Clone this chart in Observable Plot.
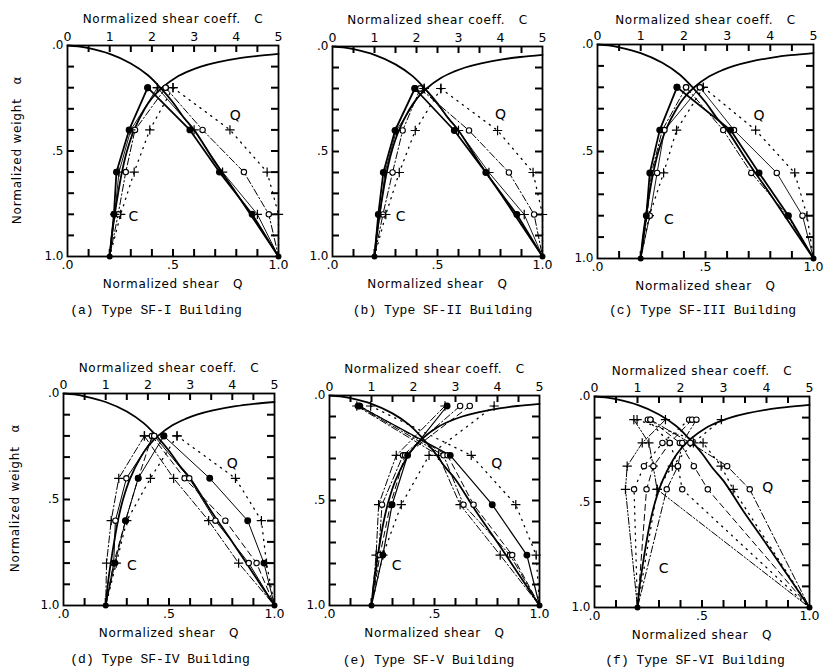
<!DOCTYPE html>
<html><head><meta charset="utf-8">
<script src="https://cdn.jsdelivr.net/npm/d3@7"></script>
<script src="https://cdn.jsdelivr.net/npm/@observablehq/plot@0.6"></script>
<style>
body{margin:0;background:#fff;width:823px;height:672px;overflow:hidden;position:relative;}
.panel{position:absolute;}
.ytitle{position:absolute;font-family:"DejaVu Sans",sans-serif;font-size:12px;letter-spacing:0.8px;white-space:pre;transform:translate(-50%,-50%) rotate(-90deg);}
</style></head><body>
<script>
// ---- tick labels ----
const qTicks = [0, 0.5, 1.0];
const qTickLabels = [".0", ".5", "1.0"];
const cTicks = [0, 1, 2, 3, 4, 5];
const cTickLabels = ["0", "1", "2", "3", "4", "5"];
const yTicks = [0, 0.5, 1.0];
const yTickLabels = [".0", ".5", "1.0"];
const minorTicks = [0.1, 0.2, 0.3, 0.4, 0.5, 0.6, 0.7, 0.8, 0.9];

// ---- theoretical curves ----
const qCurveQ = [0, 0.05, 0.10, 0.20, 0.30, 0.38, 0.44, 0.50, 0.55, 0.60, 0.70, 0.80, 0.90, 1.00];
const qCurveA = [0, 0.004, 0.013, 0.04, 0.085, 0.14, 0.20, 0.27, 0.34, 0.40, 0.555, 0.70, 0.85, 1.00];
const cCurveC = [1.00, 1.05, 1.12, 1.20, 1.29, 1.41, 1.58, 1.83, 2.00, 2.24, 2.58, 2.89, 3.16, 3.54, 4.08, 4.47, 5.00];
const cCurveA = [1.00, 0.90, 0.80, 0.70, 0.60, 0.50, 0.40, 0.30, 0.25, 0.20, 0.15, 0.12, 0.10, 0.08, 0.06, 0.05, 0.04];

// ---- floor levels (normalized weight) ----
const levelsAD = [0.2, 0.4, 0.6, 0.8, 1.0];
const levelsE = [0.05, 0.285, 0.52, 0.76, 1.0];
const levelsF = [0.11, 0.22, 0.33, 0.44, 1.0];

// ---- (a) SF-I ----
const aC1 = [1.90, 1.46, 1.16, 1.10, 1.00], aQ1 = [0.38, 0.58, 0.72, 0.875, 1.00];
const aC2 = [2.13, 1.50, 1.22, 1.12, 1.00], aQ2 = [0.426, 0.60, 0.735, 0.90, 1.00];
const aC3 = [2.33, 1.60, 1.38, 1.20, 1.00], aQ3 = [0.465, 0.64, 0.836, 0.954, 1.00];
const aC4 = [2.50, 1.95, 1.58, 1.26, 1.00], aQ4 = [0.50, 0.77, 0.946, 1.00, 1.00];
// ---- (b) SF-II ----
const bC1 = [1.96, 1.49, 1.21, 1.09, 1.00], bQ1 = [0.392, 0.58, 0.73, 0.878, 1.00];
const bC2 = [2.18, 1.52, 1.25, 1.13, 1.00], bQ2 = [0.437, 0.60, 0.745, 0.913, 1.00];
const bC3 = [2.09, 1.67, 1.43, 1.20, 1.00], bQ3 = [0.417, 0.65, 0.84, 0.96, 1.00];
const bC4 = [2.58, 1.97, 1.59, 1.27, 1.00], bQ4 = [0.516, 0.786, 0.955, 1.00, 1.00];
// ---- (c) SF-III ----
const cC1 = [1.84, 1.44, 1.21, 1.13, 1.00], cQ1 = [0.368, 0.616, 0.748, 0.884, 1.00];
const cC2 = [2.37, 1.55, 1.38, 1.21, 1.00], cQ2 = [0.474, 0.632, 0.83, 0.949, 1.00];
const cC3 = [2.05, 1.50, 1.25, 1.15, 1.00], cQ3 = [0.41, 0.582, 0.712, 0.88, 1.00];
const cC4 = [2.45, 1.83, 1.53, 1.20, 1.00], cQ4 = [0.49, 0.732, 0.913, 0.97, 1.00];
// ---- (d) SF-IV ----
const dC1 = [1.92, 1.31, 1.13, 1.02, 1.00], dQ1 = [0.383, 0.522, 0.688, 0.83, 1.00];
const dC2 = [2.15, 1.49, 1.23, 1.19, 1.00], dQ2 = [0.43, 0.596, 0.72, 0.878, 1.00];
const dC3 = [2.10, 1.77, 1.47, 1.19, 1.00], dQ3 = [0.419, 0.574, 0.767, 0.915, 1.00];
const dC4 = [2.38, 1.77, 1.47, 1.22, 1.00], dQ4 = [0.475, 0.693, 0.873, 0.95, 1.00];
const dC5 = [2.69, 2.06, 1.50, 1.25, 1.00], dQ5 = [0.538, 0.815, 0.938, 0.962, 1.00];
// ---- (e) SF-V ----
const eC1 = [2.80, 1.86, 1.49, 1.27, 1.00], eQ1 = [0.14, 0.575, 0.775, 0.94, 1.00];
const eC2 = [3.11, 1.75, 1.25, 1.17, 1.00], eQ2 = [0.135, 0.543, 0.638, 0.86, 1.00];
const eC3 = [3.34, 1.80, 1.45, 1.20, 1.00], eQ3 = [0.145, 0.562, 0.686, 0.87, 1.00];
const eC4 = [3.92, 2.37, 1.71, 1.27, 1.00], eQ4 = [0.196, 0.675, 0.887, 0.984, 1.00];
const eC5 = [2.75, 1.59, 1.17, 1.11, 1.00], eQ5 = [0.13, 0.519, 0.622, 0.813, 1.00];
// ---- (f) SF-VI ----
const fC1 = [1.65, 1.11, 0.76, 0.72, 1.00], fQ1 = [0.183, 0.253, 0.273, 0.291, 1.00];
const fC2 = [2.20, 1.58, 1.15, 0.92, 1.00], fQ2 = [0.248, 0.35, 0.388, 0.408, 1.00];
const fC3 = [2.27, 1.75, 1.37, 1.21, 1.00], fQ3 = [0.26, 0.397, 0.462, 0.527, 1.00];
const fC4 = [2.95, 2.30, 1.81, 1.46, 1.00], fQ4 = [0.198, 0.505, 0.589, 0.645, 1.00];
const fC5 = [2.37, 2.04, 1.94, 1.68, 1.00], fQ5 = [0.26, 0.446, 0.617, 0.722, 1.00];

// ---- in-plot letters ----
const letterQx = [0.795, 0.80, 0.748, 0.80, 0.797, 0.806], letterQy = [0.33, 0.326, 0.334, 0.33, 0.325, 0.43];
const letterCx = [0.312, 0.325, 0.33, 0.324, 0.32, 0.322], letterCy = [0.81, 0.81, 0.816, 0.81, 0.81, 0.816];

const captions = ["(a) Type SF-I Building", "(b) Type SF-II Building", "(c) Type SF-III Building",
                  "(d) Type SF-IV Building", "(e) Type SF-V Building", "(f) Type SF-VI Building"];

// ---- styles ----
const DASH = {solid: null, dashdot: "7,2.5,1.5,2.5", dashdot2: "7,2,1.5,2,1.5,2", dotted: "1.2,5.5", dashed: "6,4"};
const S = (C, Q, marker, dash, w) => ({C, Q, marker, dash, w});

const panels = [
  {L: 67, T: 45, W: 211, H: 211, levels: levelsAD, ytitle: [17, 150], capDx: -17, capDy: 57, titleDy: -31,
   series: [S(aC4, aQ4, "plus", "dotted", 1.3), S(aC3, aQ3, "open", "dashdot", 1), S(aC2, aQ2, "plus", "solid", 0.9), S(aC1, aQ1, "fill", "solid", 1.8)]},
  {L: 332, T: 46, W: 210, H: 210, levels: levelsAD, ytitle: null, capDx: 5, capDy: 57, titleDy: -31,
   series: [S(bC4, bQ4, "plus", "dotted", 1.3), S(bC3, bQ3, "open", "dashdot", 1), S(bC2, bQ2, "plus", "solid", 0.9), S(bC1, bQ1, "fill", "solid", 1.8)]},
  {L: 597, T: 44, W: 216, H: 214, levels: levelsAD, ytitle: null, capDx: -3, capDy: 55, titleDy: -29,
   series: [S(cC4, cQ4, "plus", "dotted", 1.3), S(cC3, cQ3, "open", "dashdot", 1), S(cC2, cQ2, "open", "solid", 0.9), S(cC1, cQ1, "fill", "solid", 1.8)]},
  {L: 63, T: 393, W: 211, H: 212, levels: levelsAD, ytitle: [15, 498], capDx: -9, capDy: 57, titleDy: -30,
   series: [S(dC5, dQ5, "plus", "dotted", 1.3), S(dC1, dQ1, "plus", "dashdot", 1), S(dC3, dQ3, "open", "dashed", 1), S(dC2, dQ2, "open", "solid", 1), S(dC4, dQ4, "fill", "solid", 1)]},
  {L: 329, T: 395, W: 210, H: 210, levels: levelsE, ytitle: null, capDx: -6, capDy: 58, titleDy: -31,
   series: [S(eC4, eQ4, "plus", "dotted", 1.3), S(eC5, eQ5, "plus", "dashdot", 1), S(eC2, eQ2, "open", "dashdot", 1), S(eC3, eQ3, "open", "dashed", 1), S(eC1, eQ1, "fill", "solid", 1.2)]},
  {L: 594, T: 396, W: 215, H: 211, levels: levelsF, ytitle: null, capDx: -7, capDy: 56, titleDy: -30,
   series: [S(fC1, fQ1, "plus", "dashdot2", 1), S(fC2, fQ2, "open", "dotted", 1.3), S(fC3, fQ3, "open", "dashed", 1), S(fC4, fQ4, "plus", "dotted", 1.3), S(fC5, fQ5, "open", "dashdot", 1)]}
];

const ml = 58, mr = 8, mt = 40, mb = 66;
const SANS = "DejaVu Sans";
const TICK = 7;

panels.forEach((p, pi) => {
  const marks = [];
  // frame
  marks.push(Plot.frame({stroke: "black", strokeWidth: 1.8}));
  // inward minor ticks on all four sides
  const tk = {stroke: "#000", strokeWidth: 2};
  marks.push(Plot.tickX(minorTicks, {x: d => d, insetTop: p.H - TICK, ...tk}));
  marks.push(Plot.tickX(minorTicks, {x: d => d, insetBottom: p.H - TICK, ...tk}));
  marks.push(Plot.tickY(minorTicks, {y: d => d, insetRight: p.W - TICK, ...tk}));
  marks.push(Plot.tickY(minorTicks, {y: d => d, insetLeft: p.W - TICK, ...tk}));
  // theoretical curves
  marks.push(Plot.line(qCurveQ.map((q, i) => ({x: q, y: qCurveA[i]})), {x: "x", y: "y", stroke: "black", strokeWidth: 1.8, curve: "catmull-rom"}));
  marks.push(Plot.line(cCurveC.map((c, i) => ({x: c / 5, y: cCurveA[i]})), {x: "x", y: "y", stroke: "black", strokeWidth: 1.8, curve: "catmull-rom"}));
  // series
  p.series.forEach(s => {
    const cRows = s.C.map((c, j) => ({x: c / 5, y: p.levels[j]}));
    const qRows = s.Q.map((q, j) => ({x: q, y: p.levels[j]}));
    const lineOpt = {x: "x", y: "y", stroke: "black", strokeWidth: s.w, strokeDasharray: DASH[s.dash], strokeLinecap: "round"};
    marks.push(Plot.line(cRows, lineOpt), Plot.line(qRows, lineOpt));
  });
  p.series.forEach(s => {
    const pts = s.C.map((c, j) => ({x: c / 5, y: p.levels[j]})).concat(s.Q.map((q, j) => ({x: q, y: p.levels[j]}))).filter(d => d.y < 1);
    if (s.marker === "plus") marks.push(Plot.dot(pts, {x: "x", y: "y", symbol: "plus", r: 3.1, stroke: "black", strokeWidth: 1.2}));
    else if (s.marker === "open") marks.push(Plot.dot(pts, {x: "x", y: "y", symbol: "circle", r: 2.7, fill: "white", stroke: "black", strokeWidth: 1.1}));
    else marks.push(Plot.dot(pts, {x: "x", y: "y", symbol: "circle", r: 2.7, fill: "black", stroke: "black"}));
  });
  // end points at alpha = 1
  const ends = [{x: p.series[0].C[4] / 5, y: p.levels[4]}, {x: p.series[0].Q[4], y: p.levels[4]}];
  marks.push(Plot.dot(ends, {x: "x", y: "y", r: 3, fill: "black"}));
  // letters
  marks.push(Plot.text(["Q"], {x: () => letterQx[pi], y: () => letterQy[pi], fontSize: 14, fontFamily: SANS}));
  marks.push(Plot.text(["C"], {x: () => letterCx[pi], y: () => letterCy[pi], fontSize: 14, fontFamily: SANS}));
  // tick labels
  const cPos = cTicks.map(c => c / 5);
  marks.push(Plot.axisX({anchor: "bottom", ticks: qTicks, tickSize: 0, tickPadding: 4, tickFormat: d => qTickLabels[qTicks.indexOf(d)], label: null, fontSize: 12.5}));
  marks.push(Plot.axisX({anchor: "top", ticks: cPos, tickSize: 0, tickPadding: 5, tickFormat: d => cTickLabels[cPos.indexOf(d)], label: null, fontSize: 12.5}));
  marks.push(Plot.axisY({anchor: "left", ticks: yTicks, tickSize: 0, tickPadding: 4, tickFormat: d => yTickLabels[yTicks.indexOf(d)], label: null, fontSize: 12}));
  // titles
  marks.push(Plot.text(["Normalized shear coeff.   C"], {frameAnchor: "top", dy: p.titleDy, fontSize: 12, fontFamily: SANS, className: "sp"}));
  marks.push(Plot.text(["Normalized shear   Q"], {frameAnchor: "bottom", dy: 31, fontSize: 12, fontFamily: SANS, className: "sp"}));
  marks.push(Plot.text([captions[pi]], {frameAnchor: "bottom", dx: p.capDx, dy: p.capDy, fontSize: 13, fontFamily: "Liberation Mono"}));

  const svg = Plot.plot({
    width: ml + p.W + mr, height: mt + p.H + mb,
    marginLeft: ml, marginRight: mr, marginTop: mt, marginBottom: mb,
    x: {domain: [0, 1]}, y: {domain: [0, 1], reverse: true},
    style: {background: "transparent", fontFamily: SANS, fontSize: "12px", color: "black", overflow: "visible"},
    marks
  });
  svg.querySelectorAll(".sp text, g.sp text").forEach(t => t.style.letterSpacing = "0.7px");
  svg.classList.add("panel");
  svg.style.left = (p.L - ml) + "px";
  svg.style.top = (p.T - mt) + "px";
  document.body.appendChild(svg);
  if (p.ytitle) {
    const div = document.createElement("div");
    div.className = "ytitle";
    div.textContent = "Normalized weight   α";
    div.style.left = p.ytitle[0] + "px";
    div.style.top = p.ytitle[1] + "px";
    document.body.appendChild(div);
  }
});
</script>
</body></html>
